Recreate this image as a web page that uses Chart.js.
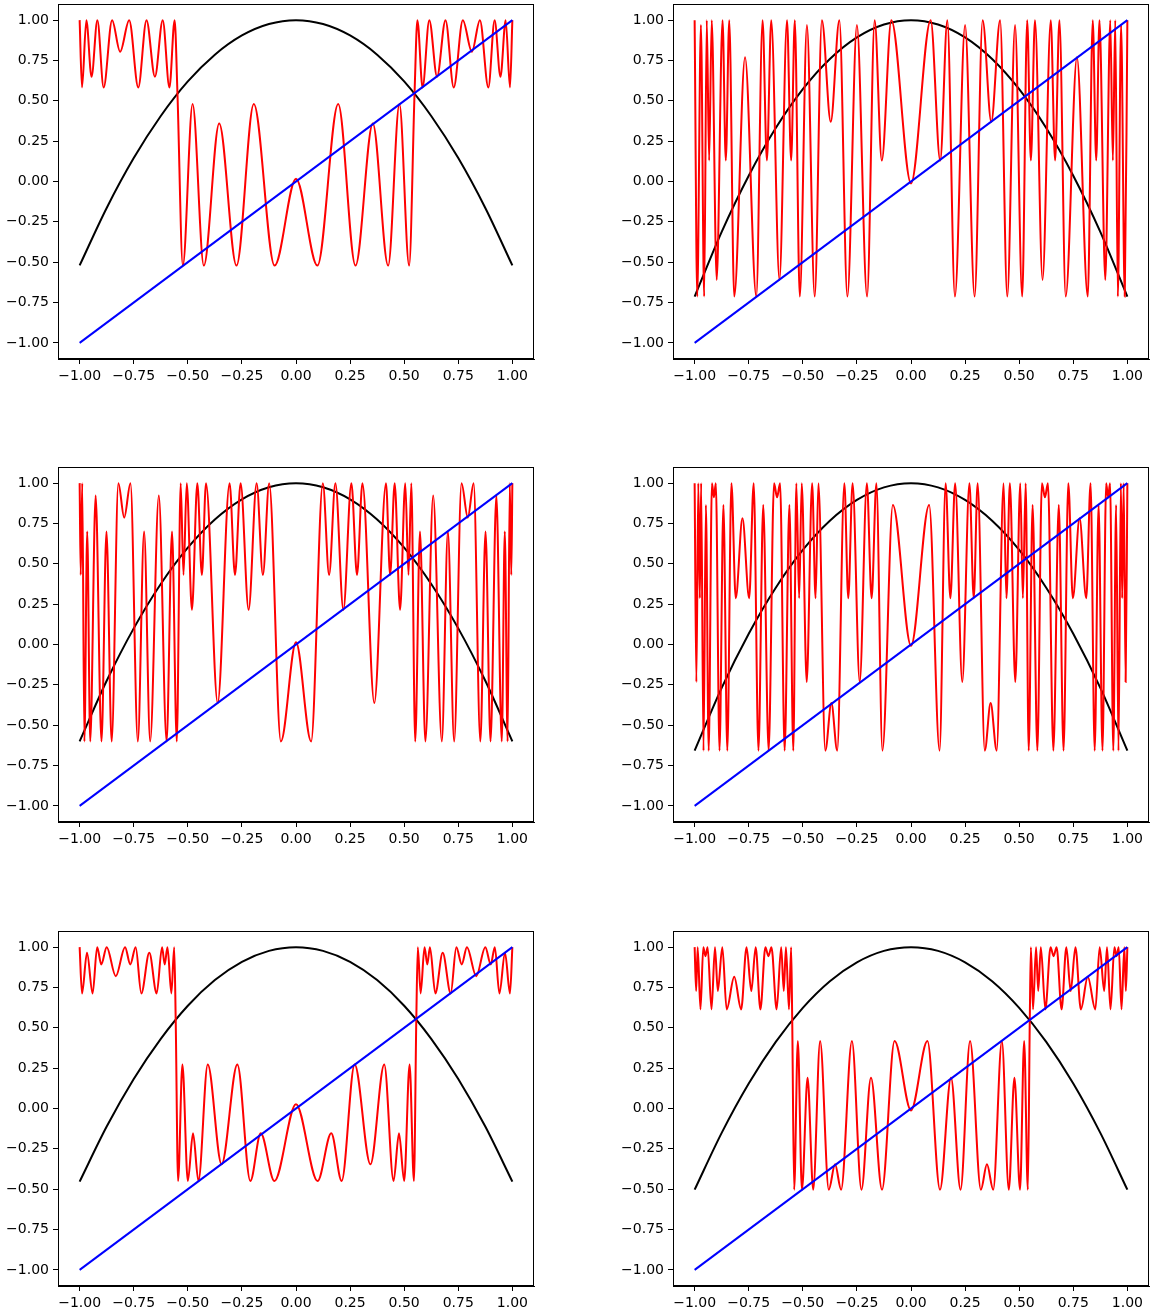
<!DOCTYPE html>
<html>
<head>
<meta charset="utf-8">
<script src="https://cdn.jsdelivr.net/npm/chart.js@4.4.1/dist/chart.umd.min.js"></script>
<style>
  html, body { margin: 0; padding: 0; background: #fff; }
  body { position: relative; width: 1153px; height: 1313px; overflow: hidden; }
  canvas { position: absolute; }
</style>
</head>
<body>
<script>
// tick labels shared by every panel
const xTicks = [-1, -0.75, -0.5, -0.25, 0, 0.25, 0.5, 0.75, 1];
const yTicks = [-1, -0.75, -0.5, -0.25, 0, 0.25, 0.5, 0.75, 1];

// blue diagonal
const idX = [-1, 1];
const idY = [-1, 1];

const blackX = [-1, -0.875, -0.75, -0.625, -0.5, -0.375, -0.25, -0.125, 0, 0.125, 0.25, 0.375, 0.5, 0.625, 0.75, 0.875, 1];
const black1 = [-0.52, -0.164, 0.145, 0.406, 0.62, 0.786, 0.905, 0.976, 1, 0.976, 0.905, 0.786, 0.62, 0.406, 0.145, -0.164, -0.52];
const black2 = [-0.713, -0.312, 0.036, 0.331, 0.572, 0.759, 0.893, 0.973, 1, 0.973, 0.893, 0.759, 0.572, 0.331, 0.036, -0.312, -0.713];
const black3 = [-0.6, -0.225, 0.1, 0.375, 0.6, 0.775, 0.9, 0.975, 1, 0.975, 0.9, 0.775, 0.6, 0.375, 0.1, -0.225, -0.6];
const black4 = [-0.658, -0.269, 0.067, 0.352, 0.586, 0.767, 0.896, 0.974, 1, 0.974, 0.896, 0.767, 0.586, 0.352, 0.067, -0.269, -0.658];
const black5 = [-0.453, -0.112, 0.183, 0.432, 0.637, 0.796, 0.909, 0.977, 1, 0.977, 0.909, 0.796, 0.637, 0.432, 0.183, -0.112, -0.453];
const black6 = [-0.503, -0.151, 0.155, 0.413, 0.624, 0.789, 0.906, 0.977, 1, 0.977, 0.906, 0.789, 0.624, 0.413, 0.155, -0.151, -0.503];

// red curves: turning points [x, y]
const red1 = [[-1,1],[-0.989,0.583],[-0.969,1],[-0.945,0.649],[-0.918,1],[-0.889,0.583],[-0.85,1],[-0.813,0.804],[-0.771,1],[-0.729,0.583],[-0.691,1],[-0.652,0.649],[-0.616,1],[-0.585,0.583],[-0.561,1],[-0.548,0.55],[-0.523,-0.521],[-0.478,0.48],[-0.426,-0.521],[-0.355,0.36],[-0.275,-0.521],[-0.195,0.48],[-0.099,-0.521],[0,0.017],
  [0.099,-0.521],[0.195,0.48],[0.275,-0.521],[0.355,0.36],[0.426,-0.521],[0.478,0.48],[0.523,-0.521],[0.548,0.55],[0.561,1],[0.585,0.583],[0.616,1],[0.652,0.649],[0.691,1],[0.729,0.583],[0.771,1],[0.813,0.804],[0.85,1],[0.889,0.583],[0.918,1],[0.945,0.649],[0.969,1],[0.989,0.583],[1,1]];

const red2 = [[-1,1],[-0.988,-0.713],[-0.971,0.97],[-0.956,-0.713],[-0.944,1],[-0.933,0.13],[-0.921,1],[-0.898,-0.61],[-0.871,1],[-0.856,0.13],[-0.84,1],[-0.817,-0.713],[-0.767,0.77],[-0.715,-0.713],[-0.686,1],[-0.666,0.13],[-0.646,1],[-0.608,-0.61],[-0.573,1],[-0.554,0.13],[-0.537,1],[-0.514,-0.713],[-0.481,0.97],[-0.445,-0.713],[-0.412,1],[-0.371,0.37],[-0.331,1],[-0.294,-0.713],[-0.25,0.97],[-0.203,-0.713],[-0.168,1],[-0.135,0.13],[-0.091,1],[0,-0.012],
  [0.091,1],[0.135,0.13],[0.168,1],[0.203,-0.713],[0.25,0.97],[0.294,-0.713],[0.331,1],[0.371,0.37],[0.412,1],[0.445,-0.713],[0.481,0.97],[0.514,-0.713],[0.537,1],[0.554,0.13],[0.573,1],[0.608,-0.61],[0.646,1],[0.666,0.13],[0.686,1],[0.715,-0.713],[0.767,0.77],[0.817,-0.713],[0.84,1],[0.856,0.13],[0.871,1],[0.898,-0.61],[0.921,1],[0.933,0.13],[0.944,1],[0.956,-0.713],[0.971,0.97],[0.988,-0.713],[1,1]];

const red3 = [[-1,1],[-0.995,0.431],[-0.988,1],[-0.978,-0.601],[-0.965,0.7],[-0.951,-0.601],[-0.926,0.923],[-0.899,-0.601],[-0.876,0.7],[-0.852,-0.601],[-0.821,1],[-0.794,0.786],[-0.765,1],[-0.731,-0.601],[-0.702,0.7],[-0.674,-0.601],[-0.634,0.923],[-0.598,-0.601],[-0.573,0.7],[-0.551,-0.601],[-0.533,1],[-0.52,0.431],[-0.505,1],[-0.481,0.215],[-0.456,1],[-0.435,0.431],[-0.416,1],[-0.362,-0.363],[-0.307,1],[-0.282,0.431],[-0.256,1],[-0.219,0.215],[-0.182,1],[-0.153,0.431],[-0.124,1],[-0.07,-0.601],[0,0.014],
  [0.07,-0.601],[0.124,1],[0.153,0.431],[0.182,1],[0.219,0.215],[0.256,1],[0.282,0.431],[0.307,1],[0.362,-0.363],[0.416,1],[0.435,0.431],[0.456,1],[0.481,0.215],[0.505,1],[0.52,0.431],[0.533,1],[0.551,-0.601],[0.573,0.7],[0.598,-0.601],[0.634,0.923],[0.674,-0.601],[0.702,0.7],[0.731,-0.601],[0.765,1],[0.794,0.786],[0.821,1],[0.852,-0.601],[0.876,0.7],[0.899,-0.601],[0.926,0.923],[0.951,-0.601],[0.965,0.7],[0.978,-0.601],[0.988,1],[0.995,0.431],[1,1]];

const red4 = [[-1,1],[-0.992,-0.233],[-0.983,1],[-0.976,0.287],[-0.97,1],[-0.959,-0.658],[-0.948,0.865],[-0.935,-0.658],[-0.92,1],[-0.911,0.912],[-0.902,1],[-0.885,-0.658],[-0.867,0.865],[-0.849,-0.658],[-0.83,1],[-0.81,0.287],[-0.779,0.782],[-0.748,0.287],[-0.727,1],[-0.705,-0.658],[-0.683,0.865],[-0.658,-0.658],[-0.633,1],[-0.619,0.912],[-0.605,1],[-0.584,-0.658],[-0.562,0.865],[-0.544,-0.658],[-0.53,1],[-0.517,0.287],[-0.505,1],[-0.482,-0.233],[-0.457,1],[-0.441,0.287],[-0.428,1],[-0.396,-0.658],[-0.368,-0.363],[-0.341,-0.658],[-0.308,1],[-0.29,0.287],[-0.27,1],[-0.237,-0.233],[-0.204,1],[-0.182,0.287],[-0.16,1],[-0.132,-0.658],[-0.084,0.865],[0,-0.008],
  [0.084,0.865],[0.132,-0.658],[0.16,1],[0.182,0.287],[0.204,1],[0.237,-0.233],[0.27,1],[0.29,0.287],[0.308,1],[0.341,-0.658],[0.368,-0.363],[0.396,-0.658],[0.428,1],[0.441,0.287],[0.457,1],[0.482,-0.233],[0.505,1],[0.517,0.287],[0.53,1],[0.544,-0.658],[0.562,0.865],[0.584,-0.658],[0.605,1],[0.619,0.912],[0.633,1],[0.658,-0.658],[0.683,0.865],[0.705,-0.658],[0.727,1],[0.748,0.287],[0.779,0.782],[0.81,0.287],[0.83,1],[0.849,-0.658],[0.867,0.865],[0.885,-0.658],[0.902,1],[0.911,0.912],[0.92,1],[0.935,-0.658],[0.948,0.865],[0.959,-0.658],[0.97,1],[0.976,0.287],[0.983,1],[0.992,-0.233],[1,1]];

const red5 = [[-1,1],[-0.989,0.713],[-0.966,0.965],[-0.94,0.713],[-0.919,1],[-0.9,0.893],[-0.875,1],[-0.833,0.82],[-0.79,1],[-0.766,0.893],[-0.741,1],[-0.715,0.713],[-0.678,0.965],[-0.644,0.713],[-0.619,1],[-0.607,0.893],[-0.594,1],[-0.576,0.713],[-0.563,1],[-0.556,0.55],[-0.545,-0.449],[-0.525,0.273],[-0.5,-0.449],[-0.476,-0.154],[-0.451,-0.449],[-0.408,0.273],[-0.344,-0.346],[-0.271,0.273],[-0.211,-0.449],[-0.163,-0.154],[-0.1,-0.449],[0,0.026],
  [0.1,-0.449],[0.163,-0.154],[0.211,-0.449],[0.271,0.273],[0.344,-0.346],[0.408,0.273],[0.451,-0.449],[0.476,-0.154],[0.5,-0.449],[0.525,0.273],[0.545,-0.449],[0.556,0.55],[0.563,1],[0.576,0.713],[0.594,1],[0.607,0.893],[0.619,1],[0.644,0.713],[0.678,0.965],[0.715,0.713],[0.741,1],[0.766,0.893],[0.79,1],[0.833,0.82],[0.875,1],[0.9,0.893],[0.919,1],[0.94,0.713],[0.966,0.965],[0.989,0.713],[1,1]];

const red6 = [[-1,1],[-0.993,0.728],[-0.986,1],[-0.973,0.614],[-0.96,1],[-0.95,0.944],[-0.94,1],[-0.922,0.614],[-0.906,1],[-0.893,0.728],[-0.872,1],[-0.852,0.614],[-0.817,0.816],[-0.785,0.614],[-0.76,1],[-0.738,0.728],[-0.718,1],[-0.696,0.614],[-0.673,1],[-0.659,0.944],[-0.645,1],[-0.621,0.614],[-0.6,1],[-0.588,0.728],[-0.578,1],[-0.564,0.614],[-0.554,1],[-0.549,0.55],[-0.54,-0.503],[-0.523,0.418],[-0.504,-0.503],[-0.478,0.191],[-0.452,-0.503],[-0.42,0.418],[-0.38,-0.503],[-0.351,-0.346],[-0.323,-0.503],[-0.273,0.418],[-0.229,-0.503],[-0.185,0.191],[-0.134,-0.503],[-0.076,0.418],[0,-0.012],
  [0.076,0.418],[0.134,-0.503],[0.185,0.191],[0.229,-0.503],[0.273,0.418],[0.323,-0.503],[0.351,-0.346],[0.38,-0.503],[0.42,0.418],[0.452,-0.503],[0.478,0.191],[0.504,-0.503],[0.523,0.418],[0.54,-0.503],[0.549,0.55],[0.554,1],[0.564,0.614],[0.578,1],[0.588,0.728],[0.6,1],[0.621,0.614],[0.645,1],[0.659,0.944],[0.673,1],[0.696,0.614],[0.718,1],[0.738,0.728],[0.76,1],[0.785,0.614],[0.817,0.816],[0.852,0.614],[0.872,1],[0.893,0.728],[0.906,1],[0.922,0.614],[0.94,1],[0.95,0.944],[0.96,1],[0.973,0.614],[0.986,1],[0.993,0.728],[1,1]];

const blacks = [black1, black2, black3, black4, black5, black6];
const reds = [red1, red2, red3, red4, red5, red6];

// layout of the 3x2 grid (axes boxes, px)
const colLeft = [58, 673];
const rowTop = [4, 467, 931];
const boxW = 476, boxH = 355;
const YW = 58, XH = 32, PAD = 4;

const fmt = v => v.toFixed(2).replace('-', '\u2212');

const frame = {
  id: 'frame',
  afterDraw(chart) {
    const a = chart.chartArea, ctx = chart.ctx;
    ctx.save();
    ctx.strokeStyle = '#000';
    ctx.lineWidth = 1;
    ctx.strokeRect(Math.round(a.left) + 0.5, Math.round(a.top) + 0.5,
                   Math.round(a.right - a.left) - 1, Math.round(a.bottom - a.top) - 1);
    ctx.restore();
  }
};

function axis(ticks, isX) {
  return {
    type: 'linear',
    min: -1.1,
    max: 1.1,
    afterBuildTicks: s => { s.ticks = ticks.map(v => ({ value: v })); },
    afterFit: s => {
      // fixed axis size, and no extra room for the end labels
      if (isX) s.height = XH; else s.width = YW;
      s.paddingTop = 0; s.paddingBottom = 0; s.paddingLeft = 0; s.paddingRight = 0;
    },
    ticks: {
      callback: v => fmt(v),
      color: '#000',
      font: { family: 'DejaVu Sans', size: 14 },
      padding: 4,
      maxRotation: 0,
      autoSkip: false
    },
    grid: { display: true, drawOnChartArea: false, tickLength: 5, color: '#000' },
    border: { display: true, color: '#000', width: 1 }
  };
}

for (let i = 0; i < 6; i++) {
  const col = i % 2, row = Math.floor(i / 2);
  const canvas = document.createElement('canvas');
  canvas.width = YW + boxW + PAD;
  canvas.height = PAD + boxH + XH;
  canvas.style.left = (colLeft[col] - YW) + 'px';
  canvas.style.top = (rowTop[row] - PAD) + 'px';
  canvas.style.width = canvas.width + 'px';
  canvas.style.height = canvas.height + 'px';
  document.body.appendChild(canvas);

  new Chart(canvas, {
    type: 'line',
    data: {
      datasets: [
        { data: idX.map((x, k) => ({ x: x, y: idY[k] })), borderColor: '#0000ff', order: 0 },
        { data: reds[i].map(p => ({ x: p[0], y: p[1] })), borderColor: '#ff0000', cubicInterpolationMode: 'monotone', order: 1 },
        { data: blackX.map((x, k) => ({ x: x, y: blacks[i][k] })), borderColor: '#000000', cubicInterpolationMode: 'monotone', order: 2 }
      ]
    },
    options: {
      responsive: false,
      animation: false,
      devicePixelRatio: 1,
      layout: { padding: { top: PAD, right: PAD, left: 0, bottom: 0 } },
      elements: { point: { radius: 0 }, line: { borderWidth: 2, fill: false } },
      plugins: { legend: { display: false }, tooltip: { enabled: false } },
      scales: { x: axis(xTicks, true), y: axis(yTicks, false) }
    },
    plugins: [frame]
  });
}
</script>
</body>
</html>
